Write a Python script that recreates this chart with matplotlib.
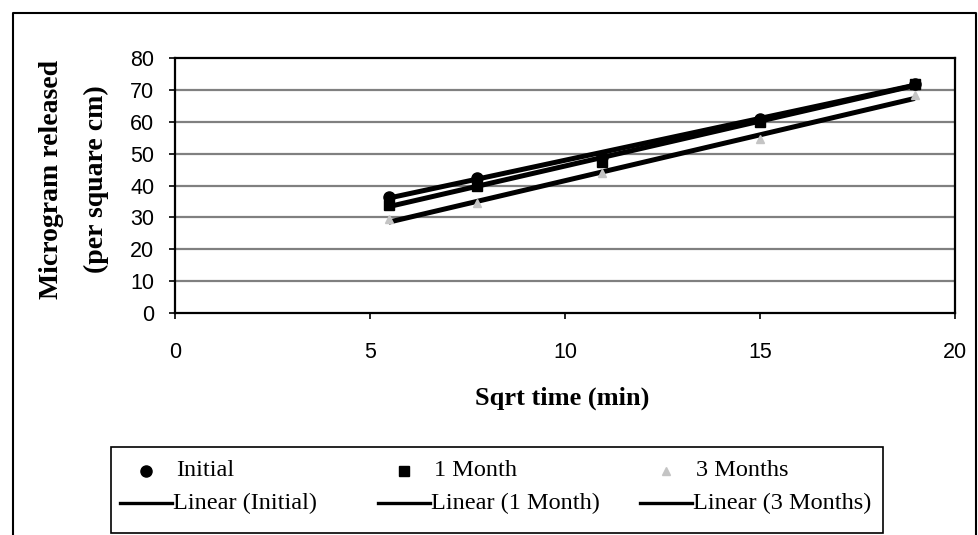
import numpy as np
import matplotlib
matplotlib.use("Agg")
import matplotlib.pyplot as plt
from matplotlib.lines import Line2D
from matplotlib.patches import Rectangle

# Square root of sampling time (min) and cumulative release (microgram / cm^2)
sqrt_time = [5.48, 7.75, 10.95, 15.0, 18.97]
initial = [36.5, 42.5, 49.0, 61.0, 72.0]
one_month = [34.0, 40.0, 47.5, 60.0, 72.0]
three_months = [29.5, 34.5, 44.0, 54.5, 68.5]

series_names = ["Initial", "1 Month", "3 Months"]
x_ticks = [0, 5, 10, 15, 20]
y_ticks = [0, 10, 20, 30, 40, 50, 60, 70, 80]

W, H = 979, 535
fig = plt.figure(figsize=(W / 100, H / 100), dpi=100)
fig.patch.set_facecolor("white")

serif = "Liberation Serif"
sans = "Liberation Sans"

def fx(px):
    return px / W

def fy(py):
    return 1 - py / H

ax = fig.add_axes([fx(175), fy(313), fx(955) - fx(175), fy(58) - fy(313)])
ax.set_xlim(0, 20)
ax.set_ylim(0, 80)
ax.set_xticks(x_ticks)
ax.set_yticks(y_ticks)
ax.set_xticklabels([str(t) for t in x_ticks], fontfamily=sans, fontsize=15.5)
ax.set_yticklabels([str(t) for t in y_ticks], fontfamily=sans, fontsize=15.5)
ax.tick_params(axis="y", direction="out", length=4, width=1.2, pad=11, colors="black")
ax.tick_params(axis="x", direction="out", length=4, width=1.2, pad=17, colors="black")
for sp in ax.spines.values():
    sp.set_color("black")
    sp.set_linewidth(1.6)

for yv in y_ticks[1:-1]:
    ax.axhline(yv, color="#808080", lw=1.6, zorder=1)

x = np.array(sqrt_time)
data = [np.array(initial), np.array(one_month), np.array(three_months)]
markers = [("o", "black", 8), ("s", "black", 7), ("^", "#c4c4c4", 6)]

# least-squares trend line for each series, spanning the sampled range
for y, (m, c, ms) in zip(data, markers):
    slope, intercept = np.polyfit(x, y, 1)
    xs = np.array([x.min(), x.max()])
    ax.plot(xs, slope * xs + intercept, color="black", lw=3.6,
            solid_capstyle="butt", zorder=3)
for y, (m, c, ms) in zip(data, markers):
    ax.plot(x, y, linestyle="none", marker=m, color=c, markersize=ms, zorder=4)

# axis titles
fig.text(fx(562), fy(398), "Sqrt time (min)", fontfamily=serif, fontweight="bold",
         fontsize=19, ha="center", va="center")
fig.text(fx(52), fy(179), "Microgram released", fontfamily=serif, fontweight="bold",
         fontsize=20, rotation=90, ha="center", va="center")
fig.text(fx(96), fy(179), "(per square cm)", fontfamily=serif, fontweight="bold",
         fontsize=20, rotation=90, ha="center", va="center")

# outer chart frame
frame = Line2D([fx(13), fx(13), fx(976), fx(976)], [0, fy(13), fy(13), 0],
               transform=fig.transFigure, color="black", lw=1.5)
fig.add_artist(frame)

# legend box, entries laid out row by row in three columns
box = Rectangle((fx(111), fy(533)), fx(883) - fx(111), fy(447) - fy(533),
                transform=fig.transFigure, facecolor="white", edgecolor="black", lw=1.2)
fig.add_artist(box)
col_x = [120, 378, 640]
handle_w = 52
row_y = [471, 503]
for i, (name, (m, c, ms)) in enumerate(zip(series_names, markers)):
    x0 = col_x[i]
    cx = x0 + handle_w / 2
    fig.add_artist(Line2D([fx(cx)], [fy(row_y[0])], transform=fig.transFigure,
                          linestyle="none", marker=m, color=c, markersize=ms))
    fig.text(fx(x0 + handle_w + 4), fy(row_y[0]), name, fontfamily=serif,
             fontsize=17.5, ha="left", va="center")
    fig.add_artist(Line2D([fx(x0), fx(x0 + handle_w)], [fy(row_y[1]), fy(row_y[1])],
                          transform=fig.transFigure, color="black", lw=2.4))
    fig.text(fx(x0 + handle_w + 1), fy(row_y[1]), f"Linear ({name})", fontfamily=serif,
             fontsize=17.5, ha="left", va="center")

fig.savefig("out.png", dpi=100, facecolor="white")
